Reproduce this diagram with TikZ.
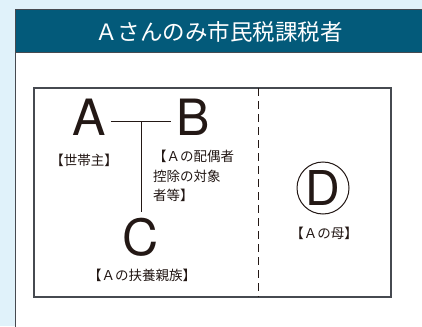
\documentclass[tikz,border=0pt]{standalone}
\usepackage{fontspec}
\setmainfont{Noto Sans CJK JP}
\newfontfamily\latinbig{TeX Gyre Heros}
\definecolor{bgblue}{RGB}{224,242,250}
\definecolor{headblue}{RGB}{3,90,122}
\definecolor{edge}{RGB}{70,74,80}
\definecolor{ink}{RGB}{35,24,21}

\begin{document}
\begin{tikzpicture}[x=1pt,y=-1pt]
\tikzset{big/.style={font=\latinbig\fontsize{50}{50}\selectfont, text=ink, inner sep=5pt},
  lbl/.style={font=\fontsize{13.5}{19.5}\selectfont, text=ink, inner sep=0pt}}
\useasboundingbox (0,0) rectangle (422,326);
\fill[bgblue] (0,0) rectangle (422,326);
% panel
\draw[edge, fill=white, line width=1pt] (15.5,9.5) rectangle (424,328);
\draw[edge, fill=headblue, line width=1pt] (15.5,9.5) rectangle (424,52.5);
\node[font=\fontsize{22.5}{22.5}\selectfont, text=white] (title) at (219,31.5) {Ａさんのみ市民税課税者};
% frame
\draw[edge, line width=1.1pt] (34,88) rectangle (391,297);
\draw[ink, dash pattern=on 8pt off 5pt] (258.5,88) -- (258.5,297);
% family
\node[big, anchor=base] (a) at (89,135) {A};
\node[big, anchor=base] (b) at (193,135) {B};
\node[big, anchor=base] (c) at (141,255) {C};
\coordinate (j) at (141,121);
\draw[ink] (a.east |- j) -- (b.west |- j);
\draw[ink] (j) -- (c.north);
\node[lbl] (ah) at (84,160) {【世帯主】};
\node[lbl, anchor=north west, align=left] (bh) at (153,150) {【Ａの配偶者\\ 控除の対象\\ 者等】};
\node[lbl] (ch) at (142,275) {【Ａの扶養親族】};
% mother
\node[draw=ink, circle, line width=1pt, minimum size=52pt, inner sep=0pt,
  font=\latinbig\fontsize{48}{48}\selectfont, text=ink] (d) at (323,188) {D};
\node[lbl] (dh) at (324,233) {【Ａの母】};
\end{tikzpicture}
\end{document}
